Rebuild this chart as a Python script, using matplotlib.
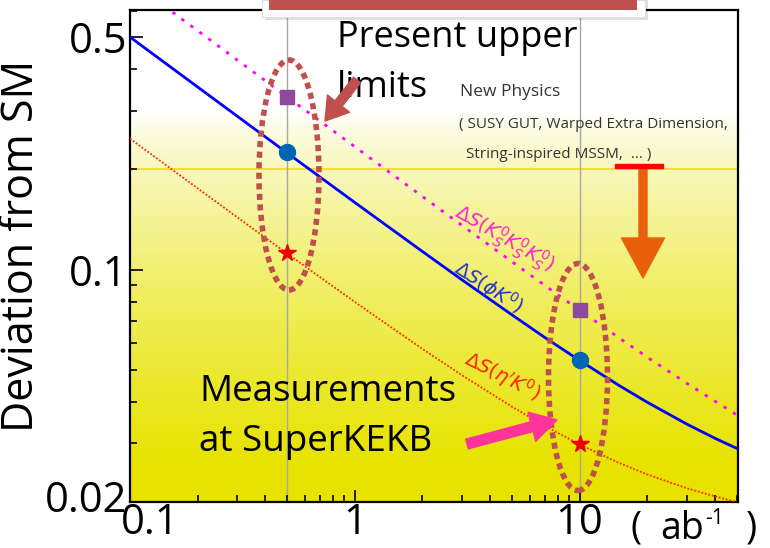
import numpy as np
import matplotlib
matplotlib.use("Agg")
import matplotlib.pyplot as plt
from matplotlib.patches import Ellipse, Rectangle, FancyArrowPatch, ArrowStyle
from matplotlib.ticker import FixedLocator, LogLocator, NullFormatter, FixedFormatter
import matplotlib.transforms as mtransforms

# ---- data ---------------------------------------------------------------
lumi = [0.1, 0.2, 0.3, 0.5, 1, 2, 3, 5, 7, 10, 15, 20, 30, 40, 50]      # ab^-1
ds_ksksks = [0.7384, 0.5223, 0.4265, 0.3305, 0.2340, 0.1658, 0.1357, 0.1056,
             0.0896, 0.0755, 0.0623, 0.0545, 0.0455, 0.0402, 0.0366]
ds_phik = [0.5000, 0.3538, 0.2891, 0.2242, 0.1591, 0.1133, 0.0931, 0.0731,
           0.0625, 0.0533, 0.0448, 0.0399, 0.0343, 0.0311, 0.0290]
ds_etapk = [0.2475, 0.1754, 0.1436, 0.1117, 0.0799, 0.0577, 0.0481, 0.0387,
            0.0339, 0.0298, 0.0262, 0.0242, 0.0220, 0.0208, 0.0200]

proj_lumi = [0.5, 10]
ksksks_pts = [0.331, 0.0755]
phik_pts = [0.225, 0.0535]
etapk_pts = [0.112, 0.0298]

np_limit = 0.2          # new-physics reach level

y_ticks = [0.02, 0.1, 0.5]
y_ticklabels = ["0.02", "0.1", "0.5"]
x_ticks = [0.1, 1, 10]
x_ticklabels = ["0.1", "1", "10"]

# ---- figure --------------------------------------------------------------
W, H = 770, 548
FONT = "Open Sans"
fig = plt.figure(figsize=(W / 100, H / 100), dpi=100)
fig.patch.set_facecolor("white")


def px(x, y):
    """pixel (from top-left) -> figure fraction"""
    return (x / W, 1 - y / H)


ax = fig.add_axes([130 / W, 46 / H, 608 / W, 492 / H])
ax.set_xscale("log")
ax.set_yscale("log")
ax.set_xlim(0.1, 50.7)
ax.set_ylim(0.02, 0.603)

# white -> yellow vertical gradient
rows = 492
ypix = 10 + np.arange(rows)          # top row first
t = np.clip((ypix - 112) / 350.0, 0, 1) ** 0.75
white = np.array([1.0, 1.0, 1.0])
yellow = np.array([0.906, 0.890, 0.0])
grad = (1 - t)[:, None] * white + t[:, None] * yellow
ax.imshow(grad[:, None, :], extent=[0, 1, 0, 1], transform=ax.transAxes,
          aspect="auto", zorder=0, interpolation="bilinear")

# reference lines
ax.axhline(np_limit, color="#f5dc3c", lw=1.5, zorder=1)
for xv in proj_lumi:
    ax.axvline(xv, color="#a8a8a0", lw=1.0, zorder=1)

# sensitivity curves
ax.plot(lumi, ds_ksksks, color="#ff00ff", lw=2.0, ls=(0, (1.2, 2.8)), zorder=3)
ax.plot(lumi, ds_phik, color="#0000ff", lw=2.0, zorder=3)
ax.plot(lumi, ds_etapk, color="#ff2a00", lw=1.3, ls=(0, (1, 1)), zorder=3)

# projected measurement points
ax.plot(proj_lumi, ksksks_pts, "s", color="#8e4a9c", ms=10, zorder=5)
ax.plot(proj_lumi, phik_pts, "o", color="#0066b3", ms=11.5, zorder=5)
ax.plot(proj_lumi, etapk_pts, "*", color="#ee0000", ms=13, mec="#ee0000", zorder=5)

# axes decoration
for s in ax.spines.values():
    s.set_linewidth(1.6)
    s.set_color("black")
ax.yaxis.set_major_locator(FixedLocator(y_ticks))
ax.yaxis.set_major_formatter(FixedFormatter(y_ticklabels))
ax.yaxis.set_minor_locator(LogLocator(base=10, subs=np.arange(2, 10)))
ax.yaxis.set_minor_formatter(NullFormatter())
ax.xaxis.set_major_locator(FixedLocator(x_ticks))
ax.xaxis.set_major_formatter(FixedFormatter(x_ticklabels))
ax.xaxis.set_minor_locator(LogLocator(base=10, subs=np.arange(2, 10)))
ax.xaxis.set_minor_formatter(NullFormatter())
ax.tick_params(which="both", direction="in", top=False, right=False, width=1.2)
ax.tick_params(which="major", length=9, labelsize=30, pad=2)
ax.tick_params(which="minor", length=5)
for lab in ax.get_xticklabels() + ax.get_yticklabels():
    lab.set_fontfamily(FONT)
ax.tick_params(axis="x", which="major", pad=0)
# keep the first x label clear of the lowest y label
first = ax.get_xticklabels()[0]
first.set_transform(first.get_transform() +
                    mtransforms.ScaledTranslation(20 / 100, 0, fig.dpi_scale_trans))
low = ax.get_yticklabels()[0]
low.set_transform(low.get_transform() +
                  mtransforms.ScaledTranslation(0, 6 / 100, fig.dpi_scale_trans))

ax.set_ylabel("Deviation from SM", fontsize=31, fontfamily=FONT)
ax.yaxis.set_label_coords(-(130 - 44) / 608, 0.52)

# x unit label
fig.text(*px(630, 528), "(", fontsize=27, fontfamily=FONT, va="center", ha="left")
fig.text(*px(660, 529), "ab", fontsize=27, fontfamily=FONT, va="center", ha="left")
fig.text(*px(705, 518), "-1", fontsize=15, fontfamily=FONT, va="center", ha="left")
fig.text(*px(746, 528), ")", fontsize=27, fontfamily=FONT, va="center", ha="left")

# curve labels
ax.text(0.615, 0.535, r"$\Delta S(K^0_S K^0_S K^0_S)$", transform=ax.transAxes,
        color="#ff22cc", fontsize=14, rotation=-30, ha="center", va="center", zorder=4)
ax.text(0.590, 0.436, r"$\Delta S(\phi K^0)$", transform=ax.transAxes,
        color="#2233cc", fontsize=14, rotation=-33, ha="center", va="center", zorder=4)
ax.text(0.612, 0.255, r"$\Delta S(\eta' K^0)$", transform=ax.transAxes,
        color="#ff2200", fontsize=14, rotation=-27, ha="center", va="center", zorder=4)

# annotations
fig.text(*px(337, 38), "Present upper", fontsize=26, fontfamily=FONT, va="center", ha="left")
fig.text(*px(337, 88), "limits", fontsize=26, fontfamily=FONT, va="center", ha="left")
fig.text(*px(199, 392), "Measurements", fontsize=26.5, fontfamily=FONT, va="center", ha="left")
fig.text(*px(199, 442), "at SuperKEKB", fontsize=26.5, fontfamily=FONT, va="center", ha="left")
fig.text(*px(460, 92), "New Physics", fontsize=12.5, fontfamily=FONT, color="#333333",
         va="center", ha="left")
fig.text(*px(459, 125), "( SUSY GUT, Warped Extra Dimension,", fontsize=11, fontfamily=FONT,
         color="#333333", va="center", ha="left")
fig.text(*px(466, 155), "String-inspired MSSM,  ... )", fontsize=11, fontfamily=FONT,
         color="#333333", va="center", ha="left")

# dotted ellipses around the projected points
for cx, cy, w, h in [(289, 175, 60, 230), (578, 377, 59, 227)]:
    fig.add_artist(Ellipse(px(cx, cy), w / W, h / H, transform=fig.transFigure,
                           fill=False, ec="#c0504d", lw=4.0, ls=(0, (1.1, 0.8)),
                           zorder=6))


def arrow(p0, p1, color, tail, hw, hl):
    st = ArrowStyle("simple", head_length=hl * 0.72, head_width=hw * 0.72,
                    tail_width=tail * 0.72)
    fig.add_artist(FancyArrowPatch(px(*p0), px(*p1), transform=fig.transFigure,
                                   arrowstyle=st, color=color, shrinkA=0, shrinkB=0,
                                   mutation_scale=1, zorder=7))


arrow((357, 80), (325, 121), "#c0504d", 9, 28, 22)
arrow((467, 444), (557, 420), "#ff3399", 10, 30, 26)
arrow((643, 168), (643, 278), "#e8600a", 8, 43, 40)

# new-physics level marker
fig.add_artist(Rectangle(px(615, 168), 48 / W, 4 / H, transform=fig.transFigure,
                         color="#ff0000", zorder=7))

# header box at the top edge
fig.add_artist(Rectangle(px(265, 20), 383 / W, 20 / H, transform=fig.transFigure,
                         color="#000000", alpha=0.12, lw=0, zorder=8))
fig.add_artist(Rectangle(px(262, 17), 383 / W, 17 / H, transform=fig.transFigure,
                         fc="white", ec="#dddddd", lw=0.8, zorder=9))
fig.add_artist(Rectangle(px(269, 10), 368 / W, 10 / H, transform=fig.transFigure,
                         fc="#c0504d", ec="none", zorder=10))

fig.savefig("out.png", dpi=100)
